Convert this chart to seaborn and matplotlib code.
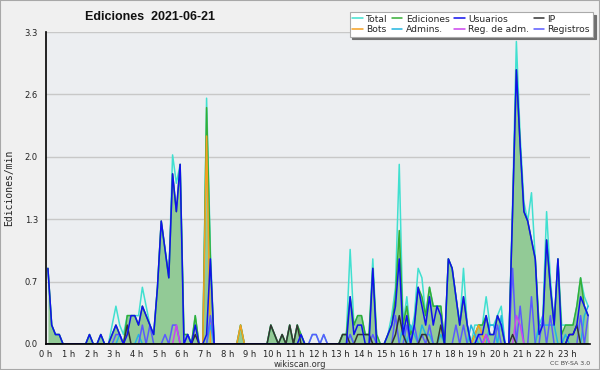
import matplotlib
matplotlib.use('Agg')
import matplotlib.pyplot as plt
import seaborn as sns
import numpy as np
from matplotlib.ticker import MultipleLocator, FixedLocator
from matplotlib.patches import Rectangle

# edit counts per 10-minute bin (6 bins per hour, 144 bins), one row = 4 hours
total = [
    8, 2, 1, 1, 0, 0,   0, 0, 0, 0, 0, 1,   0, 0, 1, 0, 0, 2,   4, 2, 1, 3, 3, 3,
    3, 6, 4, 2, 1, 6,   13, 10, 7, 20, 17, 19,   1, 1, 0, 3, 0, 0,   26, 10, 0, 0, 0, 0,
    0, 0, 0, 2, 0, 0,   0, 0, 0, 0, 0, 2,   1, 0, 1, 0, 2, 0,   2, 1, 0, 0, 1, 1,
    0, 1, 0, 0, 0, 0,   1, 1, 10, 2, 3, 3,   1, 1, 9, 1, 0, 0,   1, 3, 6, 19, 2, 5,
    1, 3, 8, 7, 3, 6,   4, 4, 4, 0, 9, 8,   5, 2, 8, 2, 0, 2,   2, 2, 5, 2, 2, 3,
    4, 0, 0, 15, 32, 22,   15, 13, 16, 9, 2, 3,   14, 7, 2, 9, 2, 2,   2, 2, 4, 7, 5, 4,
]
ediciones = [
    8, 2, 1, 1, 0, 0,   0, 0, 0, 0, 0, 1,   0, 0, 1, 0, 0, 1,   2, 1, 0, 3, 3, 3,
    2, 4, 3, 2, 1, 6,   13, 10, 7, 18, 14, 19,   1, 1, 0, 3, 0, 0,   25, 9, 0, 0, 0, 0,
    0, 0, 0, 2, 0, 0,   0, 0, 0, 0, 0, 2,   1, 0, 1, 0, 2, 0,   2, 1, 0, 0, 0, 0,
    0, 0, 0, 0, 0, 0,   1, 1, 5, 2, 3, 3,   1, 1, 8, 1, 0, 0,   1, 2, 5, 12, 2, 4,
    1, 2, 6, 5, 3, 6,   4, 4, 4, 0, 9, 8,   5, 2, 5, 2, 0, 1,   2, 2, 3, 1, 1, 3,
    2, 0, 0, 14, 29, 21,   14, 13, 11, 9, 2, 2,   11, 6, 2, 9, 1, 2,   2, 2, 4, 7, 4, 3,
]
usuarios = [
    8, 2, 1, 1, 0, 0,   0, 0, 0, 0, 0, 1,   0, 0, 1, 0, 0, 1,   2, 1, 0, 1, 3, 3,
    2, 4, 3, 2, 1, 6,   13, 10, 7, 18, 14, 19,   0, 1, 0, 2, 0, 0,   1, 9, 0, 0, 0, 0,
    0, 0, 0, 0, 0, 0,   0, 0, 0, 0, 0, 0,   0, 0, 0, 0, 0, 0,   0, 1, 0, 0, 0, 0,
    0, 0, 0, 0, 0, 0,   0, 0, 5, 1, 2, 2,   0, 0, 8, 0, 0, 0,   1, 2, 4, 9, 1, 3,
    0, 2, 6, 4, 2, 5,   2, 4, 3, 0, 9, 8,   5, 2, 5, 2, 0, 0,   1, 1, 3, 1, 1, 3,
    2, 0, 0, 14, 29, 21,   14, 13, 11, 9, 1, 2,   11, 6, 2, 9, 0, 0,   1, 1, 2, 5, 4, 3,
]
ip = [
    0, 0, 0, 0, 0, 0,   0, 0, 0, 0, 0, 0,   0, 0, 0, 0, 0, 0,   0, 0, 0, 2, 0, 0,
    0, 0, 0, 0, 0, 0,   0, 0, 0, 0, 0, 0,   0, 0, 0, 1, 0, 0,   0, 0, 0, 0, 0, 0,
    0, 0, 0, 0, 0, 0,   0, 0, 0, 0, 0, 2,   1, 0, 1, 0, 2, 0,   2, 0, 0, 0, 0, 0,
    0, 0, 0, 0, 0, 0,   1, 1, 0, 0, 1, 1,   1, 1, 0, 0, 0, 0,   0, 0, 1, 3, 1, 0,
    0, 0, 0, 1, 1, 0,   0, 0, 2, 0, 0, 0,   0, 0, 0, 0, 0, 0,   0, 0, 0, 0, 0, 0,
    0, 0, 0, 1, 0, 0,   0, 0, 0, 0, 0, 0,   0, 0, 0, 0, 0, 0,   1, 1, 2, 0, 0, 0,
]
bots = [
    0, 0, 0, 0, 0, 0,   0, 0, 0, 0, 0, 0,   0, 0, 0, 0, 0, 0,   0, 0, 0, 0, 0, 0,
    0, 0, 0, 0, 0, 0,   0, 0, 0, 0, 0, 0,   0, 0, 0, 0, 0, 0,   22, 0, 0, 0, 0, 0,
    0, 0, 0, 2, 0, 0,   0, 0, 0, 0, 0, 0,   0, 0, 0, 0, 0, 0,   0, 0, 0, 0, 0, 0,
    0, 0, 0, 0, 0, 0,   0, 0, 0, 0, 0, 0,   0, 0, 0, 0, 0, 0,   0, 0, 0, 0, 0, 0,
    0, 0, 0, 0, 0, 0,   0, 0, 0, 0, 0, 0,   0, 0, 0, 0, 0, 1,   2, 1, 0, 0, 0, 0,
    0, 0, 0, 0, 0, 0,   0, 0, 0, 0, 0, 0,   0, 0, 0, 0, 0, 0,   0, 0, 0, 0, 0, 0,
]
admins = [
    0, 0, 0, 0, 0, 0,   0, 0, 0, 0, 0, 0,   0, 0, 0, 0, 0, 0,   0, 1, 0, 0, 0, 0,
    1, 0, 0, 0, 0, 0,   0, 0, 0, 0, 0, 0,   0, 0, 0, 0, 0, 0,   0, 2, 0, 0, 0, 0,
    0, 0, 0, 0, 0, 0,   0, 0, 0, 0, 0, 0,   0, 0, 0, 0, 0, 0,   0, 0, 0, 0, 0, 0,
    0, 0, 0, 0, 0, 0,   0, 0, 1, 0, 0, 0,   0, 0, 0, 0, 0, 0,   0, 0, 0, 0, 2, 0,
    2, 1, 0, 2, 1, 1,   0, 0, 1, 0, 0, 0,   0, 0, 0, 0, 2, 1,   0, 0, 0, 2, 2, 0,
    3, 0, 0, 0, 0, 0,   0, 0, 0, 0, 2, 2,   2, 2, 2, 0, 0, 1,   0, 0, 0, 0, 3, 4,
]
reg_adm = [
    0, 0, 0, 0, 0, 0,   0, 0, 0, 0, 0, 0,   0, 0, 0, 0, 0, 0,   0, 0, 0, 0, 0, 0,
    0, 0, 0, 0, 0, 0,   0, 0, 0, 0, 2, 0,   0, 0, 0, 0, 0, 0,   0, 0, 0, 0, 0, 0,
    0, 0, 0, 0, 0, 0,   0, 0, 0, 0, 0, 0,   0, 0, 0, 0, 0, 0,   0, 0, 0, 0, 0, 0,
    0, 0, 0, 0, 0, 0,   0, 0, 0, 0, 0, 0,   0, 0, 0, 0, 0, 0,   0, 0, 0, 0, 0, 0,
    0, 0, 0, 0, 0, 0,   0, 0, 0, 0, 0, 0,   0, 0, 0, 0, 0, 0,   0, 0, 1, 0, 0, 0,
    0, 0, 0, 0, 3, 2,   0, 0, 0, 0, 0, 0,   0, 0, 0, 0, 0, 0,   0, 0, 0, 0, 0, 0,
]
registros = [
    0, 0, 0, 0, 0, 0,   0, 0, 0, 0, 0, 0,   0, 0, 0, 0, 0, 0,   1, 1, 0, 0, 0, 0,
    0, 2, 0, 2, 0, 0,   0, 1, 0, 2, 2, 0,   0, 1, 0, 0, 0, 0,   0, 3, 0, 0, 0, 0,
    0, 0, 0, 0, 0, 0,   0, 0, 0, 0, 0, 0,   0, 0, 0, 0, 0, 0,   0, 0, 0, 0, 1, 1,
    0, 1, 0, 0, 0, 0,   0, 0, 1, 0, 0, 0,   0, 0, 1, 0, 0, 0,   0, 0, 3, 0, 0, 2,
    0, 2, 0, 1, 0, 2,   0, 0, 0, 0, 0, 0,   2, 0, 2, 0, 0, 0,   1, 0, 1, 0, 0, 2,
    0, 0, 0, 8, 0, 4,   0, 0, 5, 0, 0, 3,   0, 3, 0, 0, 0, 0,   0, 0, 0, 3, 0, 3,
]

hour_labels = [f"{h} h" for h in range(24)]
y_ticks = [0, 0.66, 1.32, 1.98, 2.64, 3.3]
y_labels = ['0.0', '0.7', '1.3', '2.0', '2.6', '3.3']

# bin centres in hours, counts -> edits per minute
hours = (np.arange(len(total)) + 0.5) / 6
per_min = lambda s: np.array(s) / 10.0

sns.set_style('white')
plt.rcParams['font.family'] = ['DejaVu Sans']

fig = plt.figure(figsize=(6, 3.7), dpi=100, facecolor='#F0F0F0')
ax = fig.add_axes([0.0767, 0.0703, 0.9067, 0.8432])
ax.set_facecolor('#ECEEF1')

ax.fill_between(hours, per_min(ediciones), color='#92CA96', lw=0, zorder=1)

series = [
    ('Total', total, '#40E0D0'),
    ('Ediciones', ediciones, '#35AD35'),
    ('Bots', bots, '#F5A020'),
    ('Admins.', admins, '#22B5E0'),
    ('Registros', registros, '#5A5AFF'),
    ('Reg. de adm.', reg_adm, '#CC44EE'),
    ('IP', ip, '#333333'),
    ('Usuarios', usuarios, '#1010EE'),
]
handles = {}
for name, vals, col in series:
    sns.lineplot(x=hours, y=per_min(vals), ax=ax, color=col, lw=1.1, legend=False)
    handles[name] = ax.lines[-1]

ax.set_xlim(0, 24)
ax.set_ylim(0, 3.3)
ax.set_xlabel('')
ax.set_ylabel('')
ax.xaxis.set_major_locator(FixedLocator(range(24)))
ax.set_xticklabels(hour_labels)
ax.xaxis.set_minor_locator(MultipleLocator(1 / 6))
ax.set_yticks(y_ticks)
ax.set_yticklabels(y_labels)
ax.yaxis.set_minor_locator(MultipleLocator(0.165))
ax.tick_params(axis='both', which='both', direction='out', color='black',
               width=1, labelsize=6, pad=0.8, labelcolor='#222222')
ax.tick_params(axis='x', which='both', length=3.5)
ax.tick_params(axis='y', which='major', length=5)
ax.tick_params(axis='y', which='minor', length=3)
ax.grid(axis='y', which='major', color='#C8C8C8', lw=1)
ax.set_axisbelow(True)
for s in ['top', 'right']:
    ax.spines[s].set_visible(False)
for s in ['left', 'bottom']:
    ax.spines[s].set_color('black')
    ax.spines[s].set_linewidth(1.2)
    ax.spines[s].set_zorder(5)

fig.text(0.142, 0.954, 'Ediciones  2021-06-21', fontsize=9, fontweight='bold',
         family='Liberation Sans', ha='left', va='center', color='#111111')
fig.text(0.0155, 0.492, 'Ediciones/min', rotation=90, fontsize=7,
         family='DejaVu Sans Mono', ha='center', va='center', color='#222222')
fig.text(0.5, 0.016, 'wikiscan.org', fontsize=6, ha='center', va='center', color='#333333')
fig.text(0.983, 0.018, 'CC BY-SA 3.0', fontsize=4.5, ha='right', va='center', color='#444444')

order = ['Total', 'Bots', 'Ediciones', 'Admins.', 'Usuarios', 'Reg. de adm.', 'IP', 'Registros']
leg = fig.legend([handles[n] for n in order], order, ncol=4, loc='upper right',
                 bbox_to_anchor=(0.988, 0.968), fontsize=6.6, frameon=True,
                 fancybox=False, shadow={'color': '#707070', 'alpha': 1},
                 handlelength=1.1, handletextpad=0.4, columnspacing=0.5,
                 labelspacing=0.15, borderpad=0.3, borderaxespad=0)
leg.get_frame().set_edgecolor('#AAAAAA')
leg.get_frame().set_facecolor('white')
leg.get_frame().set_linewidth(0.8)

fig.patches.append(Rectangle((0, 0), 1, 1, transform=fig.transFigure, fill=False,
                             edgecolor='#A8A8A8', lw=1.5))

fig.savefig('out.png', dpi=100, facecolor=fig.get_facecolor())
